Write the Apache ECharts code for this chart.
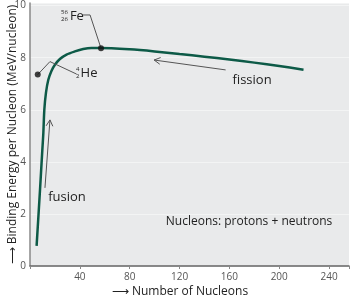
<!DOCTYPE html>
<html><head><meta charset="utf-8">
<script src="https://cdn.jsdelivr.net/npm/echarts@6/dist/echarts.min.js"></script>
<style>html,body{margin:0;padding:0;background:#fff}#c{width:350px;height:300px}</style>
</head><body><div id="c"></div>
<script>
// Binding energy per nucleon curve (A, MeV/nucleon)
const nucleons = [5.3, 8, 9.9, 10.7, 11.5, 12.8, 14.7, 17.3, 20, 24, 29.3, 36, 42.7, 49.3, 56, 80, 100, 120, 140, 160, 180, 200, 219.5];
const bindingEnergy = [0.77, 2.9, 4.46, 5.1, 6.0, 6.65, 7.15, 7.5, 7.73, 7.95, 8.12, 8.24, 8.33, 8.37, 8.37, 8.32, 8.24, 8.14, 8.04, 7.93, 7.81, 7.68, 7.54];
const heliumPoint = [6.2, 7.35];
const ironPoint = [57, 8.36];
const xTicks = [40, 80, 120, 160, 200, 240];
const yTicks = [0, 2, 4, 6, 8, 10];

const curve = nucleons.map((a, i) => [a, bindingEnergy[i]]);

// annotation layout (data coordinates)
const arrows = [
  {from: [157, 7.53], to: [99.6, 7.91]},
  {from: [12, 3.0], to: [16, 5.61]}
];
const leaders = [
  [heliumPoint, [16, 7.85], [37.4, 7.37]],
  [ironPoint, [48.2, 9.64], [42.3, 9.64]]
];
const FONT = '"Open Sans", "Noto Sans", sans-serif';

const chart = echarts.init(document.getElementById('c'), null, {renderer: 'canvas'});
chart.setOption({
  animation: false,
  backgroundColor: '#fff',
  grid: {left: 30, right: 1, top: 3, bottom: 34, show: true, backgroundColor: '#e9eaeb', borderWidth: 0,
    containLabel: false, outerBoundsMode: 'none'},
  xAxis: {
    type: 'value', min: 0, max: 256, interval: 40,
    name: '\u27F6 Number of Nucleons', nameLocation: 'middle', nameGap: 20, nameMoveOverlap: false,
    nameTextStyle: {fontFamily: FONT, fontSize: 12, color: '#222', padding: [0, 19, 0, 0]},
    axisLine: {show: true, lineStyle: {color: '#666', width: 1.5}},
    axisTick: {show: true, length: 3, lineStyle: {color: '#888'}},
    axisLabel: {fontFamily: FONT, fontSize: 10, color: '#555', margin: 6,
      formatter: v => xTicks.includes(v) ? String(v) : ''},
    splitLine: {show: false}
  },
  yAxis: {
    type: 'value', min: 0, max: 10.1, interval: 2,
    name: '\u27F6 Binding Energy per Nucleon (MeV/nucleon)', nameLocation: 'middle', nameGap: 11, nameMoveOverlap: false,
    nameTextStyle: {fontFamily: FONT, fontSize: 12, color: '#222'},
    axisLine: {show: true, lineStyle: {color: '#888', width: 1.5}},
    axisTick: {show: false},
    axisLabel: {fontFamily: FONT, fontSize: 10, color: '#555', margin: 4,
      formatter: v => yTicks.includes(v) ? String(v) : ''},
    splitLine: {show: true, lineStyle: {color: '#f3f4f4', width: 1}}
  },
  series: [
    {
      type: 'line', data: curve, smooth: 0.3, showSymbol: false,
      lineStyle: {color: '#0d5a47', width: 2.5}, z: 3
    },
    {
      type: 'scatter', data: [heliumPoint, ironPoint], symbolSize: 6,
      itemStyle: {color: '#111'}, z: 5
    },
    {
      type: 'custom', data: [0], z: 4, clip: false,
      renderItem: function (params, api) {
        const ch = [];
        const stroke = {stroke: '#555', lineWidth: 1, fill: null};
        leaders.forEach(pts => {
          ch.push({type: 'polyline', shape: {points: pts.map(p => api.coord(p))}, style: stroke});
        });
        arrows.forEach(a => {
          const f = api.coord(a.from), t = api.coord(a.to);
          ch.push({type: 'line', shape: {x1: f[0], y1: f[1], x2: t[0], y2: t[1]}, style: stroke});
          const ang = Math.atan2(f[1] - t[1], f[0] - t[0]);
          const L = 7, s = 0.5;
          ch.push({type: 'polyline', shape: {points: [
            [t[0] + L * Math.cos(ang + s), t[1] + L * Math.sin(ang + s)],
            [t[0], t[1]],
            [t[0] + L * Math.cos(ang - s), t[1] + L * Math.sin(ang - s)]
          ]}, style: stroke});
        });
        const txt = (p, text, size, align, dx, dy) => {
          const c = api.coord(p);
          ch.push({type: 'text', style: {text: text, x: c[0] + (dx || 0), y: c[1] + (dy || 0),
            font: size + 'px ' + FONT, fill: '#222', align: align, verticalAlign: 'middle'}});
        };
        txt([178.2, 7.14], 'fission', 13, 'center');
        txt([29.7, 2.65], 'fusion', 13, 'center');
        txt([175.8, 1.69], 'Nucleons: protons + neutrons', 12, 'center');
        // 4/2 He
        txt([40.6, 7.41], 'He', 13, 'left');
        txt([38.2, 7.41], '4', 6, 'center', 0, -4);
        txt([38.2, 7.41], '2', 6, 'center', 0, 3);
        // 56/26 Fe
        txt([32, 9.6], 'Fe', 13, 'left');
        txt([27.6, 9.6], '56', 6, 'center', 0, -4);
        txt([27.6, 9.6], '26', 6, 'center', 0, 3);
        return {type: 'group', children: ch};
      }
    }
  ]
});
</script></body></html>
